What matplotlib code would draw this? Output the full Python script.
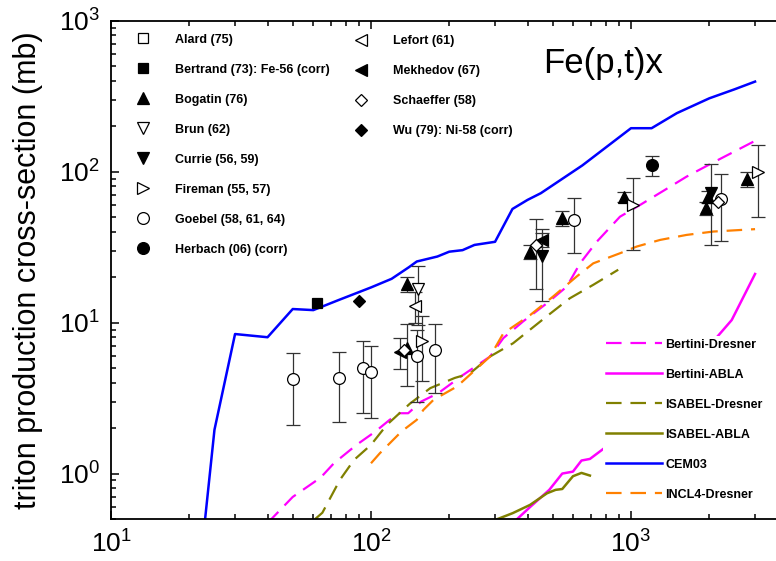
import matplotlib
matplotlib.use("Agg")
import matplotlib.pyplot as plt
from matplotlib.lines import Line2D
import numpy as np

plt.rcParams['font.family'] = ['Liberation Sans', 'DejaVu Sans']
plt.rcParams['mathtext.default'] = 'regular'

# --- model curves (energy in MeV, cross-section in mb) ---
cem03_e = [20, 25, 30, 40, 50, 60, 75, 100, 120, 140, 150, 180, 200, 225, 250,
           300, 350, 400, 450, 650, 1000, 1200, 1500, 2000, 2500, 3000]
cem03_y = [0.05, 1.95, 8.4, 8.0, 12.3, 12.1, 14.1, 17.1, 19.5, 23.3, 25.4, 27.4, 29.5,
           30.2, 32.7, 34.3, 56.6, 65, 72, 110, 194, 194, 244, 306, 351, 395]

bert_dres_e = [40, 50, 64, 72, 88, 104, 118, 129, 139, 156, 181, 226, 287, 323, 385,
               474, 566, 637, 738, 907, 1084, 1350, 1636, 2070, 3000]
bert_dres_y = [0.47, 0.7, 0.94, 1.17, 1.55, 1.9, 2.27, 2.51, 2.51, 3.0, 3.4, 4.5, 5.96,
               7.9, 10.2, 13.4, 17.3, 24.7, 34.3, 50.3, 60.2, 75.7, 92.7, 115, 160]

bert_abla_e = [365, 409, 485, 544, 598, 645, 695, 1000, 1500, 2000, 2440, 3000]
bert_abla_y = [0.5, 0.6, 0.78, 1.0, 1.03, 1.22, 1.25, 2.0, 4.0, 7.0, 10.4, 21]

isa_dres_e = [61, 65, 76, 86, 100, 115, 141, 169, 210, 240, 287, 352, 474, 582, 716, 893]
isa_dres_y = [0.5, 0.55, 0.91, 1.23, 1.55, 2.1, 2.9, 3.68, 4.3, 4.6, 5.96, 7.3, 11,
              14.5, 17.8, 22.4]

isa_abla_e = [250, 307, 351, 409, 475, 513, 544, 598, 645, 695]
isa_abla_y = [0.45, 0.5, 0.547, 0.62, 0.74, 0.78, 0.79, 0.96, 1.01, 0.97]

incl_dres_e = [100, 108, 131, 150, 159, 174, 214, 287, 323, 409, 502, 618, 716, 907,
               1052, 1294, 1636, 2070, 3000]
incl_dres_y = [1.17, 1.36, 1.9, 2.27, 2.64, 3.08, 3.77, 5.96, 8.5, 11.2, 14.9, 20.2,
               24.7, 28.8, 31.9, 35.3, 38.1, 40.1, 41.6]

# --- experimental data (0 error = no bar drawn) ---
alard_e, alard_y, alard_err = [], [], []
bertrand_e, bertrand_y, bertrand_err = [62], [13.4], [0]
bogatin_e = [138, 137, 409, 541, 940, 1950, 1980, 2800]
bogatin_y = [17.9, 6.8, 29.5, 49.1, 68.3, 57.3, 68.3, 89]
bogatin_err = [2, 3, 3, 5.7, 5, 6, 6, 10]
brun_e, brun_y, brun_err = [151], [16.6], [7]
currie_e, currie_y, currie_err = [453, 2030], [27.8, 72.6], [14, 40]
fireman_e, fireman_y, fireman_err = [157, 1014, 3090], [7.6, 60.2, 100], [3.5, 30, 50]
goebel_e = [50, 75, 93, 100, 150, 177, 604, 2215]
goebel_y = [4.2, 4.3, 5.0, 4.7, 6.0, 6.6, 47.9, 65.6]
goebel_err = [2.1, 2.1, 2.5, 2.35, 3, 3.2, 19, 31]
herbach_e, herbach_y, herbach_err = [1200], [110], [17]
lefort_e, lefort_y, lefort_err = [147], [12.9], [3]
mekhedov_e, mekhedov_y, mekhedov_err = [129, 453], [6.4, 35.5], [1.5, 4]
schaeffer_e, schaeffer_y, schaeffer_err = [134, 431, 2170], [6.6, 32.7, 63], [0, 16, 0]
wu_e, wu_y, wu_err = [90], [13.9], [0]

exp_sets = [
    ("Alard (75)", 's', 'white', alard_e, alard_y, alard_err),
    ("Bertrand (73): Fe-56 (corr)", 's', 'black', bertrand_e, bertrand_y, bertrand_err),
    ("Bogatin (76)", '^', 'black', bogatin_e, bogatin_y, bogatin_err),
    ("Brun (62)", 'v', 'white', brun_e, brun_y, brun_err),
    ("Currie (56, 59)", 'v', 'black', currie_e, currie_y, currie_err),
    ("Fireman (55, 57)", '>', 'white', fireman_e, fireman_y, fireman_err),
    ("Goebel (58, 61, 64)", 'o', 'white', goebel_e, goebel_y, goebel_err),
    ("Herbach (06) (corr)", 'o', 'black', herbach_e, herbach_y, herbach_err),
    ("Lefort (61)", '<', 'white', lefort_e, lefort_y, lefort_err),
    ("Mekhedov (67)", '<', 'black', mekhedov_e, mekhedov_y, mekhedov_err),
    ("Schaeffer (58)", 'D', 'white', schaeffer_e, schaeffer_y, schaeffer_err),
    ("Wu (79): Ni-58 (corr)", 'D', 'black', wu_e, wu_y, wu_err),
]
msize = {'s': 7, 'o': 8.5, 'D': 6.5, '^': 8.5, 'v': 8.5, '<': 8.5, '>': 8.5}

W, H = 776, 561
fig = plt.figure(figsize=(W / 100, H / 100), dpi=100)
# x axis runs past the right edge of the picture (10^1 .. 8000)
ax_w = 260 * np.log10(800)
ax = fig.add_axes([111 / W, 42 / H, ax_w / W, 498.3 / H])

ax.set_xscale('log')
ax.set_yscale('log')
ax.set_xlim(10, 8000)
ax.set_ylim(0.5, 1000)

# curves
mag, olive, blue, orange = '#ff00ff', '#808000', '#0000ff', '#ff8000'
curves = [
    ("Bertini-Dresner", bert_dres_e, bert_dres_y, mag, '--'),
    ("Bertini-ABLA", bert_abla_e, bert_abla_y, mag, '-'),
    ("ISABEL-Dresner", isa_dres_e, isa_dres_y, olive, '--'),
    ("ISABEL-ABLA", isa_abla_e, isa_abla_y, olive, '-'),
    ("CEM03", cem03_e, cem03_y, blue, '-'),
    ("INCL4-Dresner", incl_dres_e, incl_dres_y, orange, '--'),
]
curve_handles = []
for name, e, y, c, ls in curves:
    kw = dict(dashes=(7, 4)) if ls == '--' else {}
    ln, = ax.plot(e, y, color=c, lw=1.6 if ls == '--' else 1.8, ls=ls, label=name,
                  zorder=2, **kw)
    curve_handles.append(ln)

# experimental points
exp_handles = []
for name, m, fc, e, y, err in exp_sets:
    e = np.array(e, float); y = np.array(y, float); err = np.array(err, float)
    has = err > 0
    if has.any():
        ax.errorbar(e[has], y[has], yerr=err[has], fmt='none', ecolor='#333333',
                    elinewidth=0.9, capsize=5, capthick=0.9, zorder=3)
    ax.plot(e, y, ls='none', marker=m, ms=msize[m], mfc=fc, mec='black', mew=0.9,
            zorder=4)
    exp_handles.append(Line2D([], [], ls='none', marker=m, ms=msize[m], mfc=fc,
                              mec='black', mew=0.9, label=name))

# axes styling
for s in ax.spines.values():
    s.set_linewidth(1.3)
ax.tick_params(which='both', direction='in', top=True, right=True, width=1.1,
               labelsize=19)
ax.tick_params(which='major', length=6, pad=8)
ax.tick_params(which='minor', length=3.5)
ax.set_ylabel("triton production cross-section (mb)", fontsize=22)
ax.yaxis.set_label_coords((43 - 111) / ax_w, 0.5)

ax.text(603 / W, 1 - 63 / H, "Fe(p,t)x", transform=fig.transFigure, fontsize=25,
        ha='center', va='center')

lkw = dict(prop={'weight': 'bold', 'size': 9}, numpoints=1, frameon=False,
           loc='upper left', borderpad=0, borderaxespad=0, handlelength=1.5,
           handletextpad=1.8, labelspacing=1.44, bbox_transform=fig.transFigure)
leg1 = ax.legend(handles=exp_handles[:8], bbox_to_anchor=(133.3 / W, 1 - 33.5 / H), **lkw)
ax.add_artist(leg1)
leg2 = ax.legend(handles=exp_handles[8:], bbox_to_anchor=(351.3 / W, 1 - 35 / H), **lkw)
ax.add_artist(leg2)
leg3 = ax.legend(handles=curve_handles, prop={'weight': 'bold', 'size': 9},
                 loc='upper left', bbox_to_anchor=(603 / W, 1 - 335.5 / H),
                 bbox_transform=fig.transFigure, frameon=True, facecolor='white',
                 edgecolor='none', framealpha=1, fancybox=False, borderpad=0.25,
                 borderaxespad=0, handlelength=4.5, handletextpad=0.25,
                 labelspacing=1.44)
leg3.set_zorder(10)

fig.savefig("out.png", dpi=100)
